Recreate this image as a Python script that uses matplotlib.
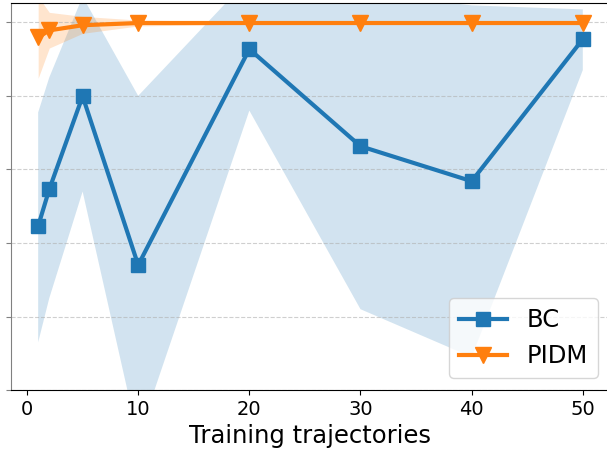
import numpy as np
import matplotlib.pyplot as plt

x = [1, 2, 5, 10, 20, 30, 40, 50]

bc_mean = [0.446, 0.546, 0.799, 0.340, 0.927, 0.663, 0.568, 0.954]
bc_low = [0.130, 0.25, 0.54, -0.13, 0.76, 0.22, 0.09, 0.87]
bc_high = [0.755, 0.85, 1.07, 0.80, 1.12, 1.08, 1.046, 1.035]

pidm_mean = [0.959, 0.978, 0.992, 0.998, 0.998, 0.998, 0.998, 0.998]
pidm_low = [0.848, 0.93, 0.97, 0.99, 0.995, 0.995, 0.995, 0.995]
pidm_high = [1.07, 1.027, 1.016, 1.006, 1.002, 1.002, 1.002, 1.002]

fig = plt.figure(figsize=(6.07, 4.5), dpi=100)
ax = fig.add_axes([0.018, 0.133, 0.987, 0.860])

ax.fill_between(x, bc_low, bc_high, color="tab:blue", alpha=0.2, linewidth=0)
ax.fill_between(x, pidm_low, pidm_high, color="tab:orange", alpha=0.2, linewidth=0)
ax.plot(x, bc_mean, color="tab:blue", marker="s", markersize=10, linewidth=3, label="BC")
ax.plot(x, pidm_mean, color="tab:orange", marker="v", markersize=11, linewidth=3, label="PIDM")

ax.set_xlim(-1.45, 52.45)
ax.set_ylim(0, 1.052)
ax.set_yticks([0, 0.2, 0.4, 0.6, 0.8, 1.0])
ax.set_yticklabels([])
ax.grid(True, axis="y", linestyle="--", alpha=0.6)
ax.spines["left"].set_color("gray")
ax.spines["right"].set_visible(False)
ax.tick_params(axis="y", colors="gray")
ax.tick_params(axis="x", labelsize=14)
ax.set_xlabel("Training trajectories", fontsize=17.5)
ax.legend(loc="lower right", fontsize=17.5, bbox_to_anchor=(1.0, 0.0))

fig.savefig("out.png", dpi=100)
